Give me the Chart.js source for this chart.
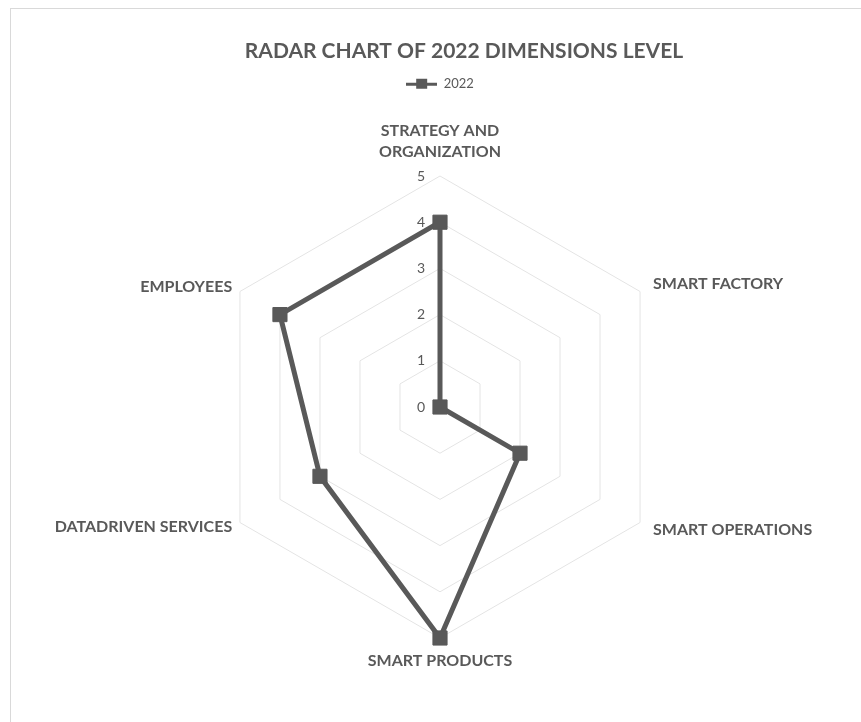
<!DOCTYPE html>
<html>
<head>
<meta charset="utf-8">
<title>Radar chart of 2022 dimensions level</title>
<script src="https://cdn.jsdelivr.net/npm/chart.js@4"></script>
<style>
  html, body { margin: 0; padding: 0; background: #fff; overflow: hidden; }
  #frame {
    position: absolute; left: 10px; top: 8px; width: 900px; height: 800px;
    border-top: 1px solid #d9d9d9; border-left: 1px solid #d9d9d9;
  }
  #wrap { position: absolute; left: 0; top: 0; width: 861px; height: 722px; }
</style>
</head>
<body>
<div id="frame"></div>
<div id="wrap"><canvas id="chart-radar"></canvas></div>
<script>
// data
const categories = [
  ["STRATEGY AND", "ORGANIZATION"],
  "SMART FACTORY",
  "SMART OPERATIONS",
  "SMART PRODUCTS",
  "DATADRIVEN SERVICES",
  "EMPLOYEES",
];
const values2022 = [4, 0, 2, 5, 3, 4];
const seriesName = "2022";
const scaleMin = 0;
const scaleMax = 5;
const scaleStep = 1;

const grey = "#595959";
Chart.defaults.font.family = "Lato, 'Open Sans', sans-serif";
Chart.defaults.color = grey;

// legend icon: line with a square marker, like the office legend
const legendIcon = document.createElement("canvas");
legendIcon.width = 31;
legendIcon.height = 12;
const ic = legendIcon.getContext("2d");
ic.fillStyle = grey;
ic.fillRect(0, 5, 31, 3);
ic.fillRect(10, 1, 11, 10);

// gap between the outer hexagon and each category label
const labelGap = [24, 15, 15, 23, 9, 9];

const radarText = {
  id: "radarText",
  beforeDatasetsDraw(chart) {
    const scale = chart.scales.r;
    const ctx = chart.ctx;
    ctx.save();
    ctx.fillStyle = grey;
    ctx.font = "14px Lato";
    ctx.textAlign = "center";
    ctx.textBaseline = "middle";
    scale.ticks.forEach((t) => {
      const dist = scale.getDistanceFromCenterForValue(t.value);
      ctx.fillText(t.label, scale.xCenter - 19, scale.yCenter - dist);
    });
    ctx.restore();
  },
  afterDraw(chart) {
    const scale = chart.scales.r;
    const ctx = chart.ctx;
    ctx.save();
    ctx.fillStyle = grey;
    ctx.font = "bold 16px Lato";
    ctx.textBaseline = "middle";
    chart.data.labels.forEach((label, i) => {
      const p = scale.getPointPosition(i, scale.drawingArea + labelGap[i]);
      const angle = Math.round((scale.getIndexAngle(i) * 180) / Math.PI);
      const lines = [].concat(label);
      if (angle === 0 || angle === 180) ctx.textAlign = "center";
      else ctx.textAlign = angle < 180 ? "left" : "right";
      lines.forEach((line, k) => {
        const y = angle === 0 ? p.y - (lines.length - 1 - k) * 21 : p.y + k * 21;
        ctx.fillText(line, p.x, y);
      });
    });
    ctx.restore();
  },
};

// the title sits a bit right of the plot centre in the reference
const titleShift = {
  id: "titleShift",
  afterLayout(chart) {
    if (chart.titleBlock) {
      chart.titleBlock.left += 24;
      chart.titleBlock.right += 24;
    }
  },
};

new Chart(document.getElementById("chart-radar"), {
  type: "radar",
  data: {
    labels: categories,
    datasets: [
      {
        label: seriesName,
        data: values2022,
        borderColor: grey,
        backgroundColor: grey,
        borderWidth: 5,
        fill: false,
        pointStyle: "rect",
        pointRadius: 10,
        pointBorderWidth: 1,
        pointBackgroundColor: grey,
        pointBorderColor: grey,
        clip: false,
      },
    ],
  },
  options: {
    responsive: true,
    maintainAspectRatio: false,
    animation: false,
    layout: { padding: { left: 209, right: 190, top: 0, bottom: 7 } },
    scales: {
      r: {
        min: scaleMin,
        max: scaleMax,
        ticks: { stepSize: scaleStep, display: false },
        pointLabels: { display: false },
        angleLines: { display: false },
        grid: { color: "#e4e4e4", lineWidth: 1 },
      },
    },
    plugins: {
      title: {
        display: true,
        text: "RADAR CHART OF 2022 DIMENSIONS LEVEL",
        color: grey,
        font: { size: 21, weight: "bold" },
        padding: { top: 39, bottom: 3 },
      },
      legend: {
        display: true,
        position: "top",
        labels: {
          color: grey,
          font: { size: 13 },
          usePointStyle: true,
          pointStyle: legendIcon,
          pointStyleWidth: 31,
          padding: 10,
        },
      },
      tooltip: { enabled: false },
    },
  },
  plugins: [radarText, titleShift],
});
</script>
</body>
</html>
